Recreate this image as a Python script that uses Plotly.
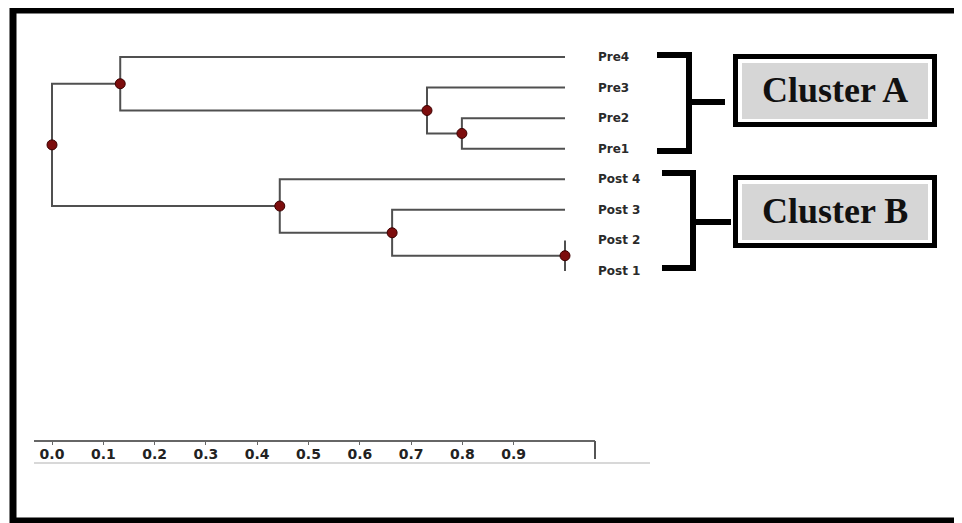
import plotly.graph_objects as go

# ---------------- data ----------------
leaf_labels = ["Pre4", "Pre3", "Pre2", "Pre1", "Post 4", "Post 3", "Post 2", "Post 1"]
# scipy-style linkage: ids 0..7 are leaves, id 8+k is merge k
merge_left = [2, 1, 0, 6, 5, 4, 10]
merge_right = [3, 8, 9, 7, 11, 12, 13]
merge_similarity = [0.799, 0.731, 0.133, 1.0, 0.663, 0.444, 0.0]
leaf_similarity = 1.0
scale_ticks = [0.0, 0.1, 0.2, 0.3, 0.4, 0.5, 0.6, 0.7, 0.8, 0.9]
scale_ticktext = ["0.0", "0.1", "0.2", "0.3", "0.4", "0.5", "0.6", "0.7", "0.8", "0.9"]
cluster_names = ["Cluster A", "Cluster B"]

# page body has an 8px margin; the figure fills the rest of the 962x523 window
O = 8
W, H = 962 - O, 523 - O


def px(x, y):
    """window pixel -> paper coordinates"""
    return (x - O) / W, 1 - (y - O) / H


n = len(leaf_labels)
pos = {i: (leaf_similarity, i) for i in range(n)}
lx, ly, nx, ny = [], [], [], []
for k, (a, b, s) in enumerate(zip(merge_left, merge_right, merge_similarity)):
    xa, ya = pos[a]
    xb, yb = pos[b]
    lx += [xa, s, s, xb, None]
    ly += [ya, ya, yb, yb, None]
    pos[n + k] = (s, (ya + yb) / 2)
    nx.append(s)
    ny.append((ya + yb) / 2)

fig = go.Figure()
fig.add_trace(go.Scatter(x=lx, y=ly, mode="lines",
                         line=dict(color="#505050", width=2),
                         hoverinfo="skip", showlegend=False))
fig.add_trace(go.Scatter(x=nx, y=ny, mode="markers",
                         marker=dict(color="#7d0d0d", size=10,
                                     line=dict(color="#3b0000", width=1)),
                         hoverinfo="skip", showlegend=False))
# carrier trace for the scale axis
fig.add_trace(go.Scatter(x=[scale_ticks[0]], y=[0], xaxis="x2", yaxis="y",
                         mode="markers", marker=dict(opacity=0),
                         hoverinfo="skip", showlegend=False))

# leaf labels
for i, lab in enumerate(leaf_labels):
    fig.add_annotation(x=leaf_similarity, y=pos[i][1], xref="x", yref="y",
                       text=lab, showarrow=False, xanchor="left", xshift=31,
                       font=dict(family="DejaVu Sans", size=12, color="#2a2a2a",
                                 weight="bold"))

# map tree coordinates to window pixels: 0 -> 52px, 1 -> 565px; leaves 57px .. 271px
sx = 513.0
x0 = -(52 - O) / sx
x1 = x0 + W / sx
sy = (271 - 57) / 7.0
y0 = -(57 - O) / sy
y1 = y0 + H / sy

shapes = []
# outer frame
fx0, fy0 = px(13, 10)
fx1, fy1 = px(985, 521)
shapes.append(dict(type="rect", xref="paper", yref="paper", x0=fx0, y0=fy0, x1=fx1, y1=fy1,
                   line=dict(color="black", width=7)))


def path_px(points):
    s = ""
    for j, (a, b) in enumerate(points):
        xx, yy = px(a, b)
        s += ("M" if j == 0 else "L") + f"{xx:.5f},{yy:.5f} "
    return s


# brackets
for pts, stub in [
    ([(657, 55), (689, 55), (689, 151), (657, 151)], [(689, 102), (725, 102)]),
    ([(662, 173), (693, 173), (693, 268), (662, 268)], [(693, 222), (731, 222)]),
]:
    shapes.append(dict(type="path", xref="paper", yref="paper", path=path_px(pts),
                       line=dict(color="black", width=6)))
    shapes.append(dict(type="path", xref="paper", yref="paper", path=path_px(stub),
                       line=dict(color="black", width=6)))

# cluster boxes
for (bx0, by0, bx1, by1), name in zip([(733, 54, 937, 127), (733, 175, 937, 248)], cluster_names):
    a0, b0 = px(bx0 + 2.5, by1 - 2.5)
    a1, b1 = px(bx1 - 2.5, by0 + 2.5)
    shapes.append(dict(type="rect", xref="paper", yref="paper", x0=a0, y0=b0, x1=a1, y1=b1,
                       fillcolor="white", line=dict(color="black", width=5), layer="below"))
    c0, d0 = px(bx0 + 9, by1 - 8)
    c1, d1 = px(bx1 - 9, by0 + 9)
    shapes.append(dict(type="rect", xref="paper", yref="paper", x0=c0, y0=d0, x1=c1, y1=d1,
                       fillcolor="#d6d6d6", line=dict(width=0), layer="below"))
    tx, ty = px((bx0 + bx1) / 2, (by0 + by1) / 2 - 1)
    fig.add_annotation(x=tx, y=ty, xref="paper", yref="paper", text=name, showarrow=False,
                       xanchor="center", yanchor="middle",
                       font=dict(family="Liberation Serif", size=36, color="#111111",
                                 weight="bold"))

# scale decorations: end tick and faint line beneath
e0x, e0y = px(595, 441)
e1x, e1y = px(595, 459)
shapes.append(dict(type="line", xref="paper", yref="paper", x0=e0x, y0=e0y, x1=e1x, y1=e1y,
                   line=dict(color="#555555", width=2)))
g0x, g0y = px(34, 463)
g1x, g1y = px(650, 463)
shapes.append(dict(type="line", xref="paper", yref="paper", x0=g0x, y0=g0y, x1=g1x, y1=g1y,
                   line=dict(color="#d8d8d8", width=2)))

ax_d0, ax_y = px(34, 441)
ax_d1, _ = px(595, 441)

fig.update_layout(
    width=W, height=H,
    margin=dict(l=0, r=0, t=0, b=0),
    paper_bgcolor="white", plot_bgcolor="rgba(0,0,0,0)",
    showlegend=False,
    shapes=shapes,
    xaxis=dict(range=[x0, x1], visible=False, domain=[0, 1]),
    yaxis=dict(range=[y1, y0], visible=False, domain=[0, 1]),
    xaxis2=dict(anchor="free", position=ax_y,
                domain=[ax_d0, ax_d1],
                range=[(34 - 52) / sx, (595 - 52) / sx],
                showline=True, linecolor="#666666", linewidth=1.5,
                ticks="outside", ticklen=3, tickcolor="#666666",
                ticklabelstandoff=-3,
                tickvals=scale_ticks, ticktext=scale_ticktext,
                tickfont=dict(family="DejaVu Sans", size=14, color="#222222", weight="bold"),
                showgrid=False, zeroline=False, side="bottom"),
)

fig.write_html("out.html")
